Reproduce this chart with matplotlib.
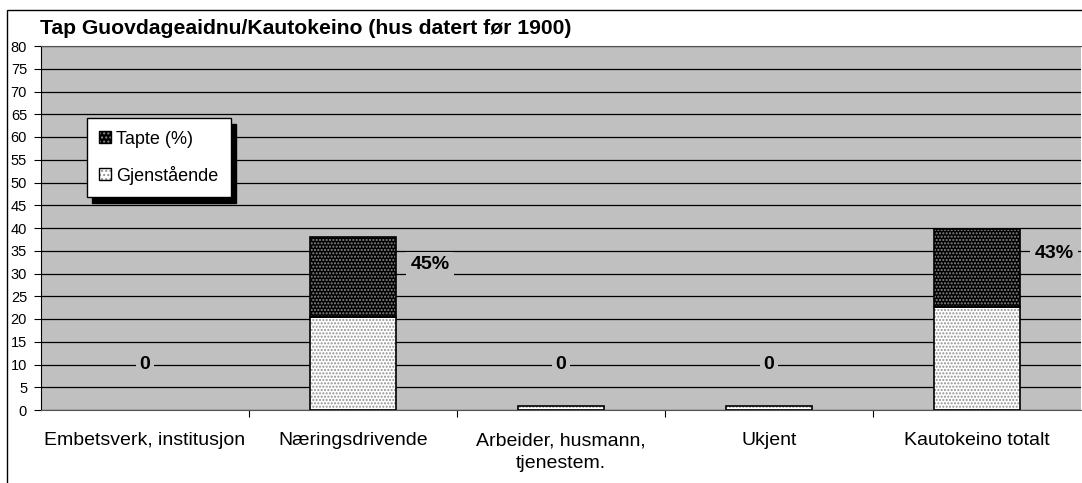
import matplotlib
matplotlib.use('Agg')
import matplotlib.pyplot as plt
from matplotlib.patches import Patch, Rectangle
from matplotlib.legend_handler import HandlerTuple

plt.rcParams['font.family'] = ['Liberation Sans', 'DejaVu Sans']
plt.rcParams['hatch.linewidth'] = 1.0

# Data
categories = ['Embetsverk, institusjon', 'Næringsdrivende', 'Arbeider, husmann,\ntjenestem.',
              'Ukjent', 'Kautokeino totalt']
gjenstaende = [0, 20.5, 0.9, 0.9, 22.6]
tapte = [0, 17.6, 0, 0, 17.1]
labels = ['0', '45%', '0', '0', '43%']
yticks = list(range(0, 85, 5))

x = list(range(len(categories)))
w = 0.41

fig = plt.figure(figsize=(10.82, 4.83), dpi=100)
ax = fig.add_axes([41 / 1082, 1 - 410 / 483, 1040 / 1082, 364 / 483])
ax.set_facecolor('#C0C0C0')

edge_g = ['black' if v > 0 else 'none' for v in gjenstaende]
edge_t = ['black' if v > 0 else 'none' for v in tapte]

# bottom series: white with grey dots
ax.bar(x, gjenstaende, w, color='white', edgecolor='#909090', hatch='.....', linewidth=0, zorder=2)
ax.bar(x, gjenstaende, w, fill=False, edgecolor=edge_g, linewidth=1.2, zorder=3)
# top series: black with light dots
ax.bar(x, tapte, w, bottom=gjenstaende, color='black', edgecolor='#8a8a8a', hatch='.....',
       linewidth=0, zorder=2)
ax.bar(x, tapte, w, bottom=gjenstaende, fill=False, edgecolor=edge_t, linewidth=1.2, zorder=3)

# data labels
for i, lab in enumerate(labels):
    if lab == '0':
        lx, ly = i, 10
    else:
        lx, ly = i + 0.37, gjenstaende[i] + tapte[i] - (6.2 if i == 1 else 5.2)
    ax.text(lx, ly, lab, ha='center', va='center', fontsize=14, fontweight='bold',
            bbox=dict(facecolor='#C0C0C0', edgecolor='none', pad=3), zorder=4)

ax.set_ylim(0, 80)
ax.set_xlim(-0.5, len(categories) - 0.5)
ax.set_yticks(yticks)
ax.set_yticklabels([str(v) for v in yticks], fontsize=10.5)
ax.tick_params(axis='y', direction='out', length=5, pad=5, width=0.8)
ax.set_xticks(x)
ax.set_xticklabels(categories, fontsize=14, linespacing=1.45)
ax.tick_params(axis='x', which='major', length=0, pad=16)
ax.set_xticks([i + 0.5 for i in x[:-1]], minor=True)
ax.tick_params(axis='x', which='minor', direction='out', length=5, width=0.8)
ax.yaxis.grid(True, color='black', linewidth=0.9, zorder=1)
ax.set_axisbelow(True)
ax.spines['right'].set_visible(False)
ax.spines['top'].set_color('#555555')
ax.spines['bottom'].set_color('#555555')
ax.spines['left'].set_color('black')

# legend
h_tapte = (Patch(facecolor='black', edgecolor='#8a8a8a', hatch='....', linewidth=0),
           Patch(fill=False, edgecolor='black', linewidth=1))
h_gjen = (Patch(facecolor='white', edgecolor='#909090', hatch='....', linewidth=0),
          Patch(fill=False, edgecolor='black', linewidth=1))
leg = ax.legend([h_tapte, h_gjen], ['Tapte (%)', 'Gjenstående'], loc='upper left',
                bbox_to_anchor=(0.044, 0.802), borderaxespad=0, fontsize=13,
                handler_map={tuple: HandlerTuple(ndivide=1)}, handlelength=0.65,
                handleheight=0.65, handletextpad=0.25, labelspacing=1.0,
                borderpad=0.7, fancybox=False, edgecolor='black', framealpha=1,
                shadow={'color': 'black', 'alpha': 1, 'ox': 4, 'oy': -4})
leg.get_frame().set_linewidth(1)

fig.text(40 / 1082, 1 - 28 / 483, 'Tap Guovdageaidnu/Kautokeino (hus datert før 1900)',
         fontsize=15.2, fontweight='bold', ha='left', va='center')

# outer chart frame
fig.patches.append(Rectangle((7 / 1082, -0.1), 2, 1.1 - 10 / 483, fill=False,
                             edgecolor='black', linewidth=1, transform=fig.transFigure))

fig.savefig('out.png', dpi=100)
